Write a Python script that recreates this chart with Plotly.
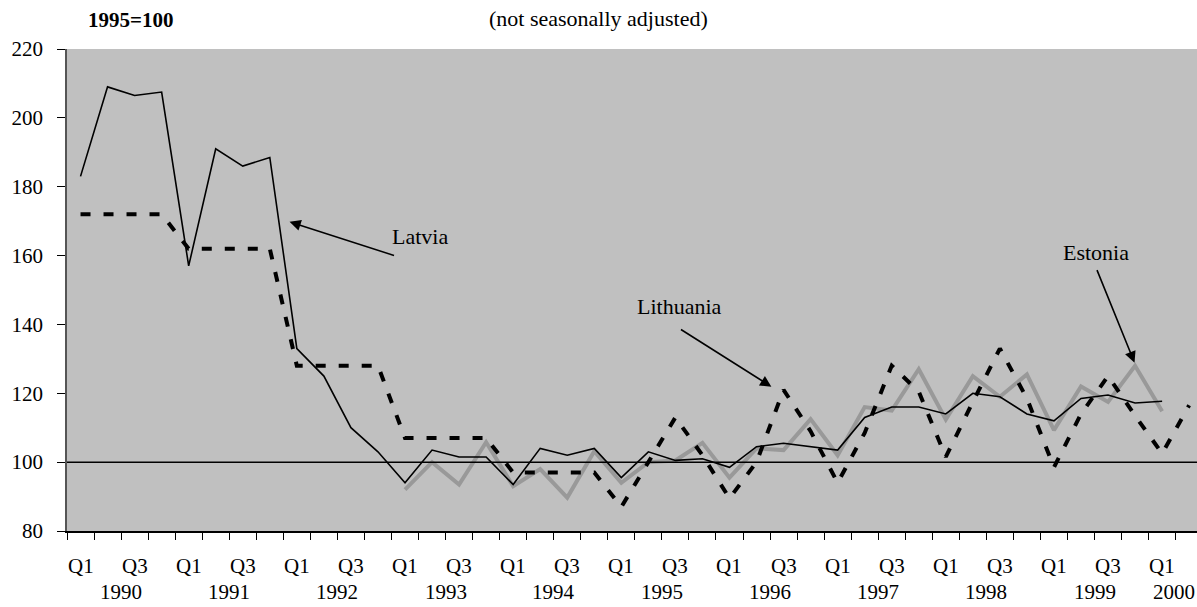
import plotly.graph_objects as go

# Quarterly index, 1995=100; quarters 1990Q1 .. 2000Q2
quarters = [f"{y}Q{q}" for y in range(1990, 2001) for q in range(1, 5)][:42]
quarter_labels = ["Q1", "Q3"] * 11
year_labels = [str(y) for y in range(1990, 2001)]

latvia = [183, 209, 206.5, 207.5,
          157, 191, 186, 188.5,
          133, 125, 110, 103,
          94, 103.5, 101.5, 101.5,
          93.5, 104, 102, 104,
          95.5, 103, 100.5, 101,
          98.5, 104.5, 105.5, 104.5,
          103.5, 113, 116, 116,
          114, 120, 119, 114,
          112, 118.5, 119.5, 117.2,
          117.7]

# Lithuania: annual averages up to 1994, quarterly afterwards
lithuania = [172, 172, 172, 172,
             162, 162, 162, 162,
             128, 128, 128, 128,
             107, 107, 107, 107,
             97, 97, 97, 97,
             87, 100, 113, 102,
             89.5, 100, 121, 109,
             94, 108.5, 128, 120.5,
             101.5, 117.5, 133, 118.5,
             98.5, 114, 125, 113.5,
             102.5, 116.5]

estonia = [None] * 12 + [92, 100, 93.5, 105.8,
                         93, 98, 89.7, 103.2,
                         94, 100, 100.5, 105.6,
                         95.5, 104, 103.5, 112.5,
                         102, 116, 115, 127,
                         112.4, 125, 119, 125.5,
                         109.3, 122, 117.5, 128,
                         114.8]

idx = list(range(len(quarters)))
FONT = "Liberation Serif, Times New Roman, serif"

W, H = 1197, 607
ML, MR, MT, MB = 67, 0, 49, 75.5
pw, ph = W - ML - MR, H - MT - MB
STEP = 27.04  # pixels per quarter

fig = go.Figure()
fig.add_trace(go.Scatter(x=idx[:len(estonia)], y=estonia, mode="lines", name="Estonia",
                         line=dict(color="#999999", width=4), connectgaps=False))
fig.add_trace(go.Scatter(x=idx[:len(lithuania)], y=lithuania, mode="lines", name="Lithuania",
                         line=dict(color="black", width=4, dash="10px,13px")))
fig.add_trace(go.Scatter(x=idx[:len(latvia)], y=latvia, mode="lines", name="Latvia",
                         line=dict(color="black", width=1.6)))

# reference line at 100
fig.add_shape(type="line", xref="paper", yref="y", x0=0, x1=1, y0=100, y1=100,
              line=dict(color="black", width=1.5), layer="above")

annotations = []
# quarter labels under the category axis
for i, lab in enumerate(quarter_labels):
    annotations.append(dict(x=2 * i, y=0, xref="x", yref="paper", text=lab,
                            showarrow=False, yshift=-34.5, yanchor="middle",
                            font=dict(family=FONT, size=21, color="black")))
for i, lab in enumerate(year_labels):
    xpos = 1.5 + 4 * i
    if xpos > 41:
        xpos = 40.45  # last year label sits at the right edge of the axis
    annotations.append(dict(x=xpos, y=0, xref="x", yref="paper", text=lab,
                            showarrow=False, yshift=-60.5, yanchor="middle",
                            font=dict(family=FONT, size=21, color="black")))

# series labels with pointer arrows
labels = [("Latvia", 12.55, 165.5, 7.73, 169.8, 11.65, 159.9),
          ("Lithuania", 22.15, 145.1, 25.55, 121.9, 22.15, 138.8),
          ("Estonia", 37.57, 160.8, 38.98, 128.9, 37.57, 156.2)]
for text, tx, ty, hx, hy, ax_, ay_ in labels:
    annotations.append(dict(x=tx, y=ty, xref="x", yref="y", text=text, showarrow=False,
                            font=dict(family=FONT, size=22, color="black")))
    annotations.append(dict(x=hx, y=hy, xref="x", yref="y", ax=ax_, ay=ay_,
                            axref="x", ayref="y", text="", showarrow=True,
                            arrowhead=2, arrowsize=1.4, arrowwidth=1.6,
                            arrowcolor="black", standoff=0, startstandoff=0))

# header texts, positioned in page pixels
for text, px, py, size in [("<b>1995=100</b>", 130, 20, 21),
                           ("(not seasonally adjusted)", 598, 18, 22)]:
    annotations.append(dict(x=(px - ML) / pw, y=1 + (MT - py) / ph,
                            xref="paper", yref="paper", text=text, showarrow=False,
                            xanchor="center", yanchor="middle",
                            font=dict(family=FONT, size=size, color="black")))

fig.update_layout(
    width=W, height=H,
    margin=dict(l=ML, r=MR, t=MT, b=MB, pad=0),
    paper_bgcolor="white",
    plot_bgcolor="#c0c0c0",
    showlegend=False,
    annotations=annotations,
    xaxis=dict(range=[-0.5, -0.5 + pw / STEP], tickmode="array",
               tickvals=[k - 0.5 for k in range(43)], ticktext=[""] * 43,
               ticks="outside", ticklen=7, tickcolor="black", tickwidth=1,
               showgrid=False, zeroline=False, showline=True,
               linecolor="black", linewidth=1.5),
    yaxis=dict(range=[80, 220], tickmode="array", tickvals=list(range(80, 221, 20)),
               ticks="outside", ticklen=8, tickcolor="black", tickwidth=1,
               ticklabelstandoff=10,
               showgrid=False, zeroline=False, showline=True,
               linecolor="#555555", linewidth=1.5,
               tickfont=dict(family=FONT, size=21, color="black")),
)

fig.write_html("out.html")
